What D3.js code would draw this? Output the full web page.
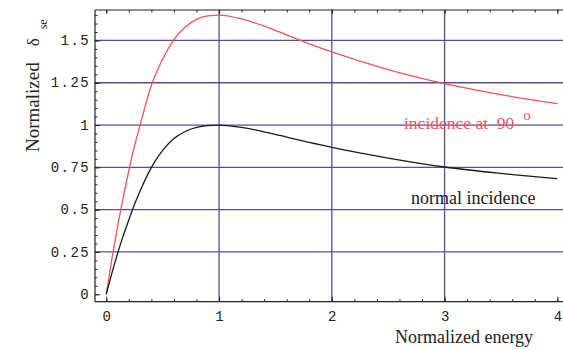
<!DOCTYPE html>
<html>
<head>
<meta charset="utf-8">
<script src="https://cdn.jsdelivr.net/npm/d3@7"></script>
<style>
  html, body { margin: 0; padding: 0; background: #fff; }
  svg { display: block; }
  text { white-space: pre; }
</style>
</head>
<body>
<svg id="chart" width="563" height="350"></svg>
<script>
// ---- data ----
const energy = [0, 0.05, 0.1, 0.15, 0.2, 0.25, 0.3, 0.4, 0.5, 0.6, 0.7, 0.8, 0.9, 1.0,
                1.2, 1.4, 1.6, 1.8, 2.0, 2.5, 3.0, 3.5, 4.0];
const normalIncidence = [0, 0.125, 0.24, 0.345, 0.44, 0.53, 0.61, 0.75, 0.85, 0.92, 0.962, 0.986, 0.997, 1.0,
                         0.986, 0.96, 0.929, 0.897, 0.868, 0.805, 0.752, 0.714, 0.683];
const incidence90 = [0, 0.21, 0.40, 0.57, 0.73, 0.875, 1.0, 1.235, 1.39, 1.505, 1.58, 1.625, 1.645, 1.65,
                     1.627, 1.585, 1.533, 1.48, 1.432, 1.328, 1.245, 1.18, 1.126];
const xTicks = [0, 1, 2, 3, 4];
const yTicks = [0, 0.25, 0.5, 0.75, 1, 1.25, 1.5];
const yTickLabels = ["0", "0.25", "0.5", "0.75", "1", "1.25", "1.5"];
const xGrid = [1, 2, 3];
const yGrid = [0.25, 0.5, 0.75, 1, 1.25, 1.5];
const xTitle = "Normalized energy";
const yTitle = "Normalized";
const label90 = "incidence at  90";
const labelNormal = "normal incidence";

// ---- layout ----
const svg = d3.select("#chart");
const pLeft = 95, pRight = 563, pTop = 10, pBottom = 301.7;
const x = d3.scaleLinear().domain([-0.1, 4.05]).range([pLeft, pRight]);
const y = d3.scaleLinear().domain([-0.044, 1.68]).range([pBottom, pTop]);
const gridColor = "#5b4b9d";
const axisColor = "#222";
const redColor = "#f05555";

// grid
const g = svg.append("g");
g.selectAll(".hg").data(yGrid).enter().append("line")
  .attr("x1", pLeft).attr("x2", pRight)
  .attr("y1", d => y(d)).attr("y2", d => y(d))
  .attr("stroke", gridColor).attr("stroke-width", 1.3);
g.selectAll(".vg").data(xGrid).enter().append("line")
  .attr("y1", pTop).attr("y2", pBottom)
  .attr("x1", d => x(d)).attr("x2", d => x(d))
  .attr("stroke", gridColor).attr("stroke-width", 1.3);

// curves
const line = d3.line().x((d, i) => x(energy[i])).y(d => y(d)).curve(d3.curveMonotoneX);
svg.append("path").datum(incidence90).attr("d", line)
  .attr("fill", "none").attr("stroke", redColor).attr("stroke-width", 1.3);
svg.append("path").datum(normalIncidence).attr("d", line)
  .attr("fill", "none").attr("stroke", "#1a1a1a").attr("stroke-width", 1.3);

// axes with d3 axis generators
const minorY = d3.range(0, 1.66, 0.05).map(v => +v.toFixed(2));
const minorX = d3.range(0, 4.01, 0.2).map(v => +v.toFixed(2));

function styleAxis(sel) {
  sel.select(".domain").remove();
  sel.selectAll(".tick line").attr("stroke", axisColor).attr("stroke-width", 1);
}

// left axis (ticks inward)
const yAxisMinor = d3.axisLeft(y).tickValues(minorY).tickSize(-2.5).tickFormat("");
svg.append("g").attr("transform", `translate(${pLeft},0)`).call(yAxisMinor).call(styleAxis);
const yAxis = d3.axisLeft(y).tickValues(yTicks).tickSize(-5).tickPadding(11)
  .tickFormat((d, i) => yTickLabels[i]);
const ya = svg.append("g").attr("transform", `translate(${pLeft},0)`).call(yAxis).call(styleAxis);
ya.selectAll("text").attr("font-family", "'Liberation Mono', monospace").attr("font-size", 14)
  .attr("fill", "#222").attr("letter-spacing", "1.4px").attr("dx", "6").attr("dy", "0.3em");

// bottom axis (ticks inward)
const xAxisMinor = d3.axisBottom(x).tickValues(minorX).tickSize(-2.5).tickFormat("");
svg.append("g").attr("transform", `translate(0,${pBottom})`).call(xAxisMinor).call(styleAxis);
const xAxis = d3.axisBottom(x).tickValues(xTicks).tickSize(-5).tickPadding(9).tickFormat(d3.format("d"));
const xa = svg.append("g").attr("transform", `translate(0,${pBottom})`).call(xAxis).call(styleAxis);
xa.selectAll("text").attr("font-family", "'Liberation Mono', monospace").attr("font-size", 14)
  .attr("fill", "#222");

// top axis (ticks inward)
const xAxisTop = d3.axisTop(x).tickValues(minorX).tickSize(-2.5).tickFormat("");
svg.append("g").attr("transform", `translate(0,${pTop})`).call(xAxisTop).call(styleAxis);
const xAxisTopMajor = d3.axisTop(x).tickValues(xTicks).tickSize(-4).tickFormat("");
svg.append("g").attr("transform", `translate(0,${pTop})`).call(xAxisTopMajor).call(styleAxis);

// frame lines
svg.append("line").attr("x1", pLeft).attr("x2", pLeft).attr("y1", pTop).attr("y2", pBottom)
  .attr("stroke", axisColor).attr("stroke-width", 1.2);
svg.append("line").attr("x1", pLeft).attr("x2", pRight).attr("y1", pBottom).attr("y2", pBottom)
  .attr("stroke", axisColor).attr("stroke-width", 1.2);
svg.append("line").attr("x1", pLeft).attr("x2", pRight).attr("y1", pTop).attr("y2", pTop)
  .attr("stroke", axisColor).attr("stroke-width", 1.2);

// titles
const serif = "'Liberation Serif', 'Times New Roman', serif";
svg.append("text").attr("x", 395).attr("y", 343)
  .attr("font-family", serif).attr("font-size", 18).attr("fill", "#222").text(xTitle);

const yt = svg.append("text").attr("transform", "translate(39,152) rotate(-90)")
  .attr("font-family", serif).attr("font-size", 19).attr("fill", "#222");
yt.append("tspan").text(yTitle);
yt.append("tspan").text("δ").attr("font-size", 17).attr("dx", 16);
yt.append("tspan").text("se").attr("font-size", 12).attr("dy", 8).attr("dx", 9);

// curve labels
const t90 = svg.append("text").attr("x", 404).attr("y", 129)
  .attr("font-family", serif).attr("font-size", 17.5).attr("fill", redColor);
t90.append("tspan").text(label90);
t90.append("tspan").text("o").attr("font-size", 15).attr("dy", -9).attr("dx", 9);

svg.append("text").attr("x", 411).attr("y", 204)
  .attr("font-family", serif).attr("font-size", 18).attr("fill", "#1a1a1a").text(labelNormal);
</script>
</body>
</html>
